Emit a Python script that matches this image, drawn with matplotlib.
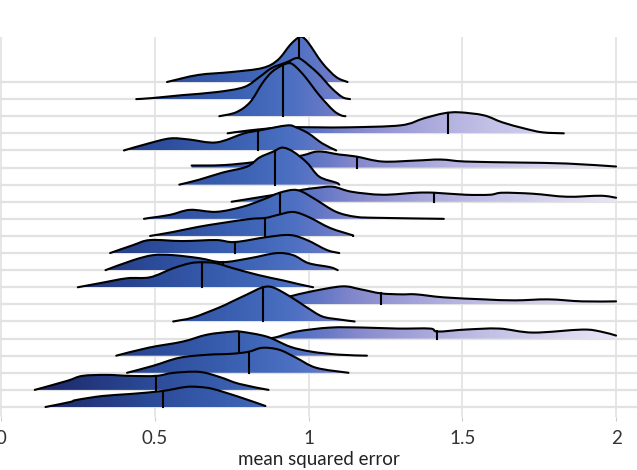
import numpy as np
import matplotlib.pyplot as plt
from matplotlib.colors import LinearSegmentedColormap, Normalize
from matplotlib.path import Path
from matplotlib.patches import PathPatch

# ridges listed top to bottom; x = mean squared error, h = density height (pixels of the original)
ridge_x = [
    [0.54, 0.64, 0.75, 0.85, 0.90, 0.94, 0.965, 0.98, 1.00, 1.045, 1.09, 1.127],
    [0.44, 0.49, 0.59, 0.70, 0.79, 0.84, 0.88, 0.93, 0.96, 0.98, 1.03, 1.075, 1.11, 1.135],
    [0.71, 0.765, 0.81, 0.85, 0.88, 0.915, 0.94, 0.96, 0.99, 1.035, 1.08, 1.105, 1.12],
    [0.737, 0.81, 0.92, 1.03, 1.13, 1.30, 1.375, 1.44, 1.49, 1.57, 1.63, 1.70, 1.76, 1.83],
    [0.40, 0.48, 0.55, 0.61, 0.70, 0.79, 0.84, 0.93, 0.96, 1.00, 1.045, 1.09],
    [0.62, 0.75, 0.96, 1.03, 1.10, 1.155, 1.24, 1.35, 1.43, 1.51, 1.68, 1.84, 2.0],
    [0.58, 0.645, 0.72, 0.80, 0.84, 0.885, 0.915, 0.95, 0.995, 1.035, 1.09, 1.10],
    [0.75, 0.85, 0.95, 0.98, 1.03, 1.08, 1.14, 1.24, 1.35, 1.41, 1.51, 1.59, 1.63, 1.73, 1.84, 1.95, 2.0],
    [0.465, 0.485, 0.55, 0.615, 0.70, 0.785, 0.85, 0.905, 0.95, 0.98, 1.025, 1.09, 1.155, 1.23, 1.44],
    [0.485, 0.56, 0.64, 0.72, 0.81, 0.86, 0.90, 0.95, 1.00, 1.07, 1.14, 1.145],
    [0.355, 0.43, 0.485, 0.59, 0.70, 0.76, 0.865, 0.94, 0.995, 1.06, 1.10],
    [0.34, 0.43, 0.495, 0.56, 0.645, 0.72, 0.81, 0.895, 0.95, 1.00, 1.07, 1.095],
    [0.25, 0.32, 0.41, 0.485, 0.56, 0.615, 0.655, 0.70, 0.755, 0.84, 0.915, 0.97, 1.015],
    [0.80, 0.90, 0.94, 1.01, 1.11, 1.17, 1.235, 1.30, 1.35, 1.44, 1.57, 1.67, 1.78, 1.89, 2.0],
    [0.56, 0.625, 0.71, 0.745, 0.80, 0.85, 0.885, 0.94, 0.995, 1.045, 1.10, 1.15],
    [0.85, 0.89, 0.96, 1.07, 1.18, 1.29, 1.395, 1.42, 1.51, 1.62, 1.73, 1.89, 1.95, 2.0],
    [0.375, 0.48, 0.59, 0.67, 0.75, 0.78, 0.865, 0.94, 1.01, 1.10, 1.19],
    [0.41, 0.495, 0.58, 0.67, 0.75, 0.805, 0.85, 0.905, 0.96, 1.025, 1.13],
    [0.11, 0.215, 0.265, 0.345, 0.42, 0.505, 0.56, 0.645, 0.71, 0.775, 0.87],
    [0.145, 0.225, 0.245, 0.33, 0.42, 0.525, 0.60, 0.645, 0.69, 0.775, 0.86],
]
ridge_h = [
    [0, 7, 10, 14, 22, 37, 44, 45, 39, 19, 5, 0],
    [0, 1, 4, 7, 12, 22, 31, 37, 41, 39, 26, 11, 2, 0],
    [0, 4, 14, 33, 44, 51, 53, 49, 39, 21, 6, 1, 0],
    [0, 3, 6, 6, 6, 8, 15, 20, 21, 18, 11, 5, 1, 0],
    [0, 7, 12, 11, 8, 17, 20, 25, 23, 17, 7, 0],
    [2, 3, 11, 16, 13, 11, 6, 7, 8, 6, 5, 4, 1],
    [0, 5, 12, 18, 27, 33, 37, 33, 22, 8, 2, 0],
    [0, 5, 10, 12, 14, 15, 10, 7, 9, 9, 7, 7, 9, 8, 5, 6, 4],
    [0, 1, 4, 9, 7, 12, 19, 26, 29, 27, 19, 7, 2, 1, 0],
    [0, 4, 9, 13, 17, 18, 21, 24, 19, 8, 1, 0],
    [0, 8, 13, 12, 13, 11, 16, 18, 13, 3, 0],
    [0, 10, 15, 15, 12, 8, 12, 17, 15, 7, 3, 0],
    [0, 4, 9, 10, 19, 24, 25, 24, 19, 12, 7, 3, 0],
    [0, 5, 8, 13, 18, 15, 11, 10, 10, 7, 5, 4, 5, 3, 3],
    [0, 4, 14, 19, 27, 34, 34, 25, 14, 5, 2, 0],
    [0, 1, 7, 11, 11, 10, 10, 7, 9, 10, 6, 9, 7, 3],
    [0, 8, 14, 21, 24, 24, 19, 9, 4, 1, 0],
    [0, 7, 15, 18, 19, 21, 25, 23, 15, 5, 0],
    [0, 9, 14, 15, 14, 14, 17, 18, 13, 6, 0],
    [0, 5, 7, 11, 13, 16, 20, 20, 18, 10, 1],
]
medians = [0.969, 0.94, 0.917, 1.454, 0.836, 1.158, 0.891, 1.408, 0.907, 0.859,
           0.761, 0.722, 0.654, 1.236, 0.852, 1.418, 0.774, 0.807, 0.504, 0.527]

# fill gradient along the x axis
stop_x = [0.0, 0.15, 0.5, 0.8, 0.95, 1.05, 1.15, 1.3, 1.5, 1.75, 2.0]
stop_c = ['#151a52', '#1e2a6c', '#2c4c9a', '#3e64b6', '#4d70c2', '#6678c6',
          '#8388cc', '#9c9dd6', '#b9b7e2', '#d2d0ec', '#e8e6f5']

xticks = [0, 0.5, 1, 1.5, 2]
xticklabels = ['0', '0.5', '1', '1.5', '2']

px_per_row = 17.1
cmap = LinearSegmentedColormap.from_list('mse', list(zip(np.array(stop_x) / 2.0, stop_c)))

plt.rcParams['font.family'] = ['Lato', 'DejaVu Sans']

fig = plt.figure(figsize=(6.37, 4.70), dpi=100)
ax = fig.add_axes([0, 53 / 470, 1, 380 / 470])
xmin, xmax = -0.003, 2.068
nrows = len(ridge_x)
ax.set_xlim(xmin, xmax)
ax.set_ylim(-10 / px_per_row, nrows - 1 + 45 / px_per_row)

grid_c = '#e2e2e2'
for xv in xticks:
    ax.axvline(xv, color=grid_c, lw=1.2, zorder=0)
for r in range(nrows):
    ax.axhline(r, color=grid_c, lw=1.6, zorder=0)


def smooth_path(xs, ys, base):
    # Catmull-Rom style bezier through the read points
    pts = np.column_stack([xs, ys])
    ext = np.vstack([pts[0], pts, pts[-1]])
    verts = [(xs[0], base), tuple(pts[0])]
    codes = [Path.MOVETO, Path.LINETO]
    line_verts = [tuple(pts[0])]
    line_codes = [Path.MOVETO]
    for i in range(1, len(pts)):
        p0, p1, p2, p3 = ext[i - 1], ext[i], ext[i + 1], ext[i + 2]
        c1 = p1 + (p2 - p0) / 6.0
        c2 = p2 - (p3 - p1) / 6.0
        c1[1] = max(c1[1], base)
        c2[1] = max(c2[1], base)
        seg = [tuple(c1), tuple(c2), tuple(p2)]
        verts += seg
        codes += [Path.CURVE4] * 3
        line_verts += seg
        line_codes += [Path.CURVE4] * 3
    verts += [(xs[-1], base), (xs[0], base)]
    codes += [Path.LINETO, Path.CLOSEPOLY]
    return Path(verts, codes), Path(line_verts, line_codes)


grad = np.clip(np.linspace(xmin, xmax, 700), 0, 2.0)[np.newaxis, :]
for i in range(nrows):
    base = nrows - 1 - i
    xs = np.array(ridge_x[i])
    ys = base + np.array(ridge_h[i]) / px_per_row
    z = 1 + i
    fill_path, top_path = smooth_path(xs, ys, base)
    patch = PathPatch(fill_path, facecolor='none', edgecolor='none', zorder=z)
    ax.add_patch(patch)
    im = ax.imshow(grad, extent=[xmin, xmax, base, ys.max() + 0.2], aspect='auto',
                   cmap=cmap, norm=Normalize(0, 2.0), zorder=z, interpolation='bilinear')
    im.set_clip_path(patch)
    ax.add_patch(PathPatch(top_path, facecolor='none', edgecolor='black', lw=1.5,
                           zorder=z + 0.5, capstyle='round'))
    m = medians[i]
    ax.plot([m, m], [base, base + np.interp(m, xs, ridge_h[i]) / px_per_row],
            color='black', lw=1.5, zorder=z + 0.5)

for s in ax.spines.values():
    s.set_visible(False)
ax.set_xticks(xticks)
ax.set_xticklabels(xticklabels)
ax.set_yticks([])
ax.tick_params(axis='x', length=3, color='#cccccc', pad=6, labelsize=13.5, labelcolor='#333333')
ax.set_xlabel('mean squared error', fontsize=13.5, color='#222222', labelpad=3)

fig.savefig('out.png', dpi=100)
